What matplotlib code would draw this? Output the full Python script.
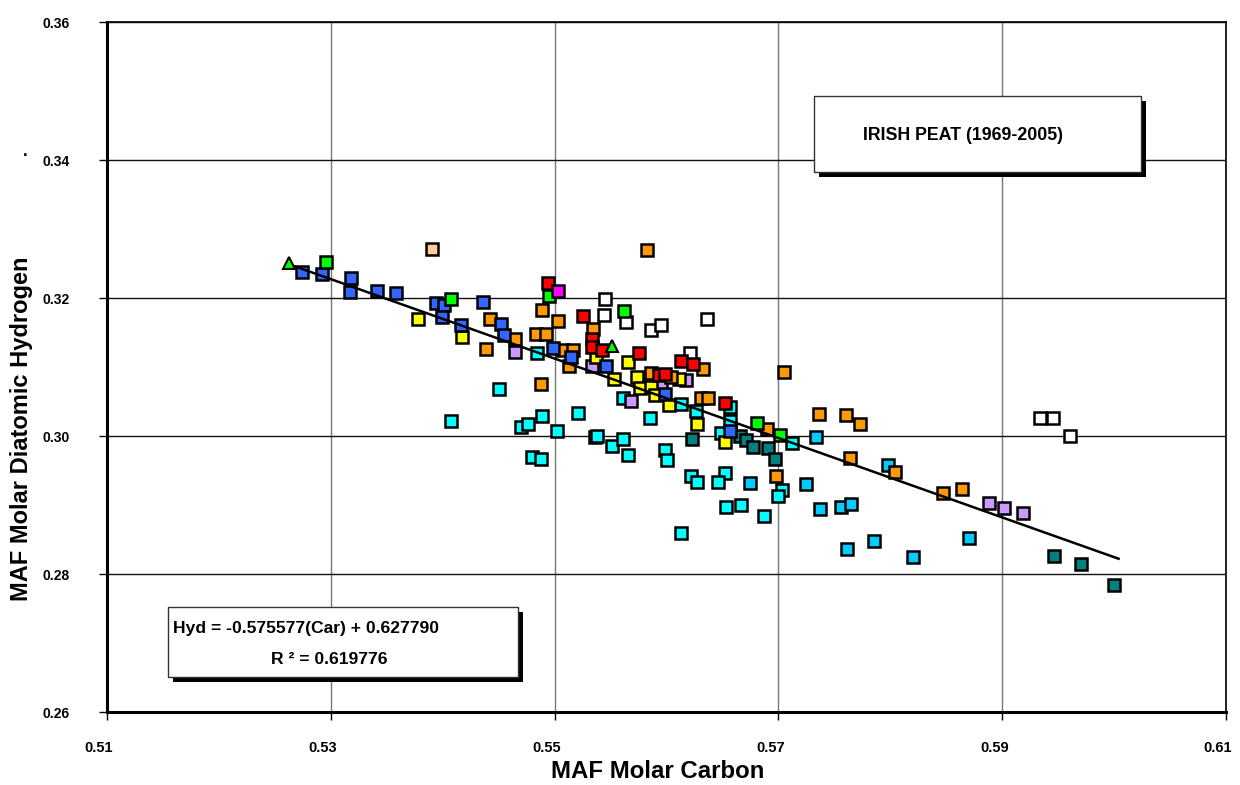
import matplotlib
matplotlib.use("Agg")
import matplotlib.pyplot as plt
from matplotlib.patches import Rectangle
from matplotlib.transforms import ScaledTranslation
import numpy as np

plt.rcParams['font.family'] = ['Liberation Sans', 'DejaVu Sans']

# ---------------- data (MAF molar carbon, MAF molar diatomic hydrogen) ----------------
sky_x = [0.5675, 0.5734, 0.5725, 0.5737, 0.5756, 0.5765, 0.5798, 0.5785, 0.5820, 0.5870, 0.5761]
sky_y = [0.2932, 0.2999, 0.2930, 0.2894, 0.2897, 0.2901, 0.2958, 0.2848, 0.2825, 0.2852, 0.2836]

cyan_x = [0.5407, 0.5450, 0.5470, 0.5476, 0.5489, 0.5502, 0.5521, 0.5480, 0.5488, 0.5536,
          0.5538, 0.5551, 0.5561, 0.5566, 0.5561, 0.5585, 0.5599, 0.5600, 0.5484, 0.5613,
          0.5626, 0.5649, 0.5657, 0.5657, 0.5622, 0.5627, 0.5652, 0.5646, 0.5653, 0.5667,
          0.5687, 0.5703, 0.5700, 0.5712, 0.5613]
cyan_y = [0.3022, 0.3068, 0.3013, 0.3017, 0.3029, 0.3007, 0.3033, 0.2970, 0.2967, 0.2999,
          0.3000, 0.2986, 0.2996, 0.2972, 0.3055, 0.3026, 0.2980, 0.2965, 0.3120, 0.3046,
          0.3036, 0.3004, 0.3042, 0.3022, 0.2942, 0.2933, 0.2946, 0.2933, 0.2897, 0.2900,
          0.2884, 0.2922, 0.2913, 0.2990, 0.2859]

teal_x = [0.5623, 0.5666, 0.5671, 0.5677, 0.5691, 0.5697, 0.5946, 0.5970, 0.6000]
teal_y = [0.2996, 0.3000, 0.2994, 0.2984, 0.2983, 0.2967, 0.2826, 0.2815, 0.2784]

white_x = [0.5545, 0.5544, 0.5564, 0.5586, 0.5595, 0.5636, 0.5621, 0.5934, 0.5945, 0.5961]
white_y = [0.3199, 0.3175, 0.3165, 0.3154, 0.3161, 0.3170, 0.3120, 0.3026, 0.3026, 0.3000]

lav_x = [0.5465, 0.5533, 0.5568, 0.5595, 0.5617, 0.5888, 0.5902, 0.5919]
lav_y = [0.3122, 0.3101, 0.3051, 0.3075, 0.3081, 0.2903, 0.2896, 0.2888]

yellow_x = [0.5378, 0.5417, 0.5537, 0.5553, 0.5566, 0.5574, 0.5576, 0.5586, 0.5590, 0.5602,
            0.5611, 0.5627, 0.5652]
yellow_y = [0.3170, 0.3143, 0.3115, 0.3083, 0.3107, 0.3086, 0.3070, 0.3071, 0.3059, 0.3045,
            0.3083, 0.3017, 0.2991]

orange_x = [0.5442, 0.5439, 0.5465, 0.5483, 0.5492, 0.5489, 0.5503, 0.5507, 0.5516, 0.5513,
            0.5488, 0.5534, 0.5583, 0.5586, 0.5604, 0.5633, 0.5631, 0.5637, 0.5690, 0.5705,
            0.5736, 0.5760, 0.5773, 0.5764, 0.5698, 0.5804, 0.5847, 0.5864]
orange_y = [0.3170, 0.3126, 0.3141, 0.3148, 0.3148, 0.3183, 0.3167, 0.3125, 0.3125, 0.3101,
            0.3075, 0.3155, 0.3270, 0.3091, 0.3086, 0.3097, 0.3055, 0.3055, 0.3010, 0.3093,
            0.3032, 0.3030, 0.3017, 0.2968, 0.2942, 0.2948, 0.2917, 0.2923]

red_x = [0.5494, 0.5525, 0.5533, 0.5533, 0.5542, 0.5575, 0.5613, 0.5624, 0.5593, 0.5599, 0.5652]
red_y = [0.3222, 0.3174, 0.3141, 0.3129, 0.3125, 0.3120, 0.3109, 0.3104, 0.3088, 0.3090, 0.3048]

blue_x = [0.5274, 0.5292, 0.5318, 0.5317, 0.5341, 0.5358, 0.5394, 0.5401, 0.5399, 0.5416,
          0.5436, 0.5452, 0.5455, 0.5499, 0.5515, 0.5546, 0.5599, 0.5657]
blue_y = [0.3238, 0.3235, 0.3229, 0.3209, 0.3210, 0.3207, 0.3193, 0.3190, 0.3172, 0.3161,
          0.3194, 0.3162, 0.3146, 0.3128, 0.3115, 0.3101, 0.3061, 0.3007]

green_x = [0.5296, 0.5407, 0.5495, 0.5562, 0.5681, 0.5701]
green_y = [0.3252, 0.3199, 0.3203, 0.3181, 0.3019, 0.3001]

tri_x = [0.5263, 0.5551]
tri_y = [0.3251, 0.3130]

magenta_x = [0.5503]
magenta_y = [0.3210]

peach_x = [0.5390]
peach_y = [0.3271]

slope = -0.575577
intercept = 0.627790
r2 = 0.619776
fit_x = [0.5268, 0.6004]

x_ticks = [0.51, 0.53, 0.55, 0.57, 0.59, 0.61]
y_ticks = [0.26, 0.28, 0.30, 0.32, 0.34, 0.36]

# ---------------- figure ----------------
W, H = 1240, 785
fig = plt.figure(figsize=(W / 100, H / 100), dpi=100)
ax = fig.add_axes([107 / W, 1 - 712 / H, (1226 - 107) / W, (712 - 22) / H])

ax.set_xlim(0.51, 0.61)
ax.set_ylim(0.26, 0.36)
ax.set_xticks(x_ticks)
ax.set_yticks(y_ticks)
ax.set_xticklabels([f"{v:.2f}" for v in x_ticks], fontweight='bold', fontsize=10.5)
ax.set_yticklabels([f"{v:.2f}" for v in y_ticks], fontweight='bold', fontsize=10)
ax.tick_params(axis='y', direction='out', length=6, width=1, pad=21)
ax.tick_params(axis='x', direction='out', length=6, width=1, pad=15)
for lab in ax.get_xticklabels():
    lab.set_transform(lab.get_transform() + ScaledTranslation(-8 / 100, 0, fig.dpi_scale_trans))

ax.yaxis.grid(True, color='#111111', lw=1.0, zorder=0)
ax.xaxis.grid(True, color='#777777', lw=1.0, zorder=0)
ax.set_axisbelow(True)
for s in ['left', 'bottom']:
    ax.spines[s].set_linewidth(2.2)
for s in ['top', 'right']:
    ax.spines[s].set_linewidth(1.2)
for s in ax.spines.values():
    s.set_color('black')

ms = 8.4
mew = 1.8
series = [
    (sky_x, sky_y, '#00CCFF'),
    (cyan_x, cyan_y, '#00FFFF'),
    (teal_x, teal_y, '#008080'),
    (white_x, white_y, '#FFFFFF'),
    (lav_x, lav_y, '#CC99FF'),
    (yellow_x, yellow_y, '#FFFF00'),
    (orange_x, orange_y, '#FF9900'),
    (red_x, red_y, '#FF0000'),
    (blue_x, blue_y, '#3366FF'),
    (green_x, green_y, '#00FF00'),
    (magenta_x, magenta_y, '#FF00FF'),
    (peach_x, peach_y, '#FFCC99'),
]
for i, (xs, ys, c) in enumerate(series):
    ax.plot(xs, ys, linestyle='none', marker='s', markersize=ms, markerfacecolor=c,
            markeredgecolor='black', markeredgewidth=mew, zorder=3 + i * 0.01)
ax.plot(tri_x, tri_y, linestyle='none', marker='^', markersize=9, markerfacecolor='#00FF00',
        markeredgecolor='black', markeredgewidth=1.5, zorder=3.5)

fx = np.array(fit_x)
ax.plot(fx, slope * fx + intercept, color='black', lw=1.8, zorder=4)

# axis labels
fig.text(658 / W, 1 - 772 / H, 'MAF Molar Carbon', ha='center', va='center',
         fontsize=17.3, fontweight='bold')
fig.text(22 / W, 1 - 429 / H, 'MAF Molar Diatomic Hydrogen', ha='center', va='center',
         rotation=90, fontsize=17, fontweight='bold')
fig.text(25 / W, 1 - 152 / H, '.', ha='center', va='center', fontsize=12, fontweight='bold')

# boxes with shadows
def shadow_box(x0, y0, x1, y1):
    sx, sy = 5, 5
    fig.add_artist(Rectangle((x0 / W + sx / W, 1 - (y1 + sy) / H), (x1 - x0) / W, (y1 - y0) / H,
                             transform=fig.transFigure, facecolor='black', edgecolor='none', zorder=5))
    fig.add_artist(Rectangle((x0 / W, 1 - y1 / H), (x1 - x0) / W, (y1 - y0) / H,
                             transform=fig.transFigure, facecolor='white', edgecolor='#333333',
                             lw=1.0, zorder=6))

shadow_box(814, 96, 1141, 172)
fig.text(863 / W, 1 - 135 / H, 'IRISH PEAT (1969-2005)', ha='left', va='center',
         fontsize=12.8, fontweight='bold', zorder=7)

shadow_box(168, 607, 518, 677)
fig.text(173 / W, 1 - 628 / H, f'Hyd = {slope:.6f}(Car) + {intercept:.6f}', ha='left', va='center',
         fontsize=12.6, fontweight='bold', zorder=7)
fig.text(329 / W, 1 - 659 / H, f'R ² = {r2:.6f}', ha='center', va='center',
         fontsize=12.6, fontweight='bold', zorder=7)

fig.savefig('out.png', dpi=100)
